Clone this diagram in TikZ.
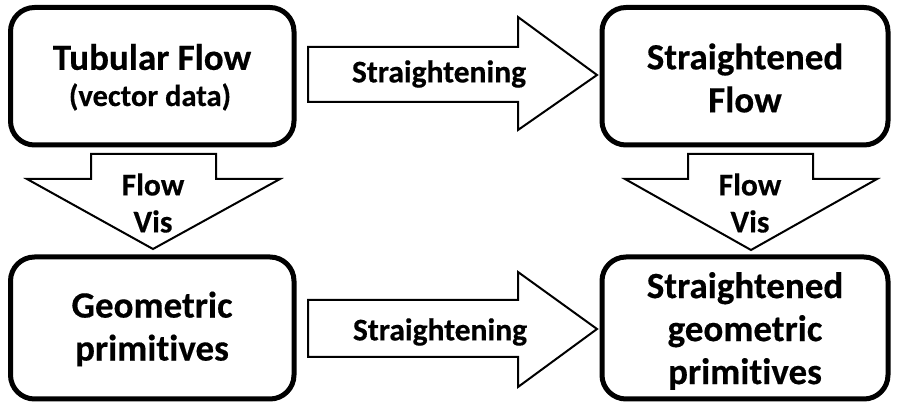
\documentclass[tikz,border=0pt]{standalone}
\usepackage{fontspec}
\setmainfont{Carlito}[Ligatures={NoCommon,NoRare,NoContextual},BoldFeatures={FakeBold=0.4}]
\begin{document}
\begin{tikzpicture}[x=1pt,y=-1pt,
  box/.style={draw=black,line width=5pt,rounded corners=24pt,fill=white},
  bigarrow/.style={draw=black,line width=2pt,fill=white,line join=miter},
  boxtxt/.style={font=\bfseries\fontsize{37}{43}\selectfont,align=center,inner sep=0pt},
  arrtxt/.style={font=\bfseries\fontsize{31.5}{37}\selectfont,align=center,inner sep=0pt}]
\useasboundingbox (0,0) rectangle (898,411);
% boxes
\draw[box] (10.5,7.5) rectangle (294,145);
\draw[box] (602,7.5) rectangle (888,145);
\draw[box] (10.5,257) rectangle (294,399);
\draw[box] (602,257) rectangle (888,399);
% horizontal arrows
\draw[bigarrow] (308,47) -- (518,47) -- (518,17) -- (597,75) -- (518,130) -- (518,102) -- (308,102) -- cycle;
\draw[bigarrow] (308,300) -- (518,300) -- (518,272) -- (597,329) -- (518,387) -- (518,357) -- (308,357) -- cycle;
% vertical arrows
\draw[bigarrow] (91,154) -- (216,154) -- (216,179) -- (280,179) -- (153,249) -- (27,179) -- (91,179) -- cycle;
\draw[bigarrow] (688,154) -- (813,154) -- (813,179) -- (877,179) -- (751,250) -- (625,179) -- (688,179) -- cycle;
% texts
\node[boxtxt] (t1) at (152,57) {Tubular Flow};
\node[font=\bfseries\fontsize{30.5}{32}\selectfont,inner sep=0pt] (t1b) at (150,97) {(vector data)};
\node[boxtxt] (t2) at (745,78) {Straightened\\Flow};
\node[boxtxt] (t3) at (152,329) {Geometric\\primitives};
\node[boxtxt] (t4) at (745,331) {Straightened\\geometric\\primitives};
\node[arrtxt] (a1) at (439,74) {Straightening};
\node[arrtxt] (a2) at (440,332) {Straightening};
\node[arrtxt] (a3) at (153,203) {Flow\\Vis};
\node[arrtxt] (a4) at (750,203) {Flow\\Vis};
\end{tikzpicture}
\end{document}
